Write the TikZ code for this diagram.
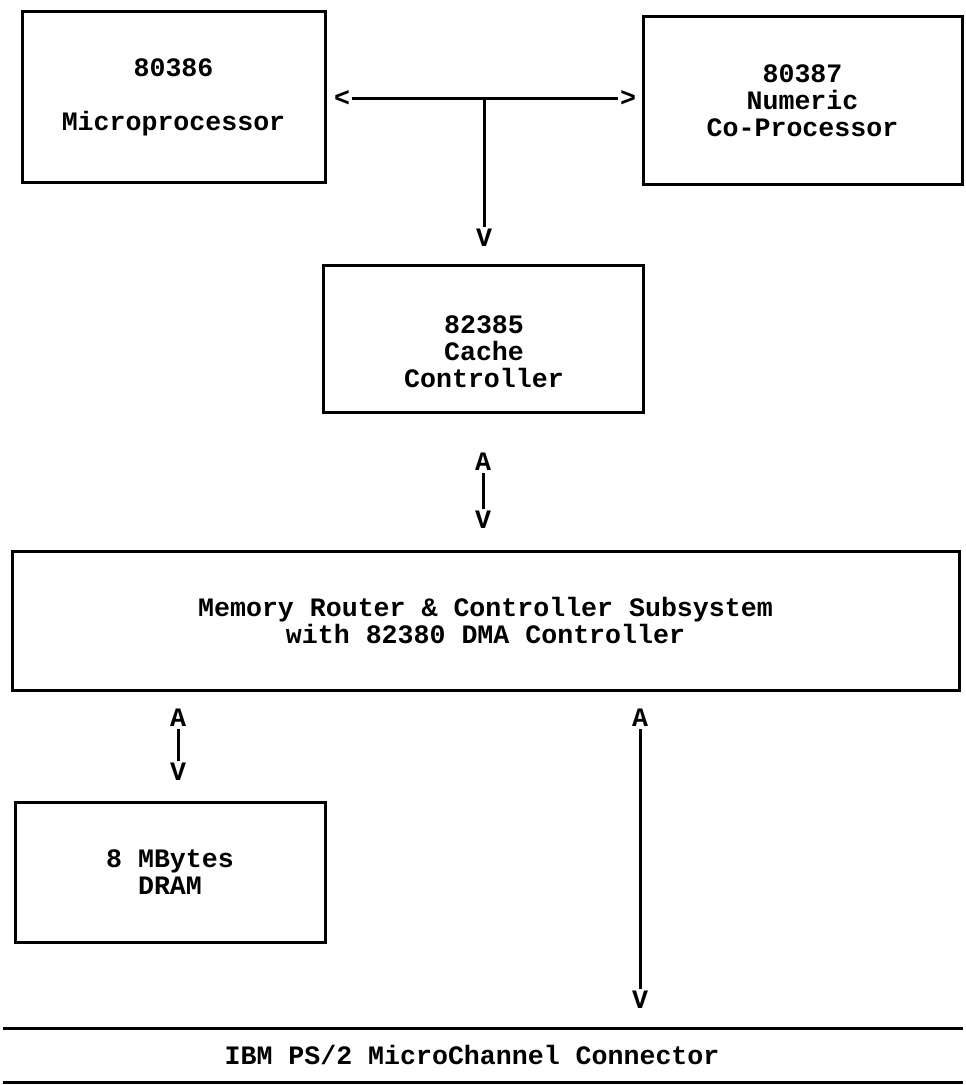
\documentclass[tikz,border=0pt]{standalone}
\usepackage{fontspec}
\setmonofont{Liberation Mono}
\usetikzlibrary{positioning}
\tikzset{
        blocknode/.style={align=center,inner sep=0pt},
        % Boxes of the system
        node_box/.style={blocknode, rectangle, draw=black, line width=1.5pt},
        % Letters used as arrow heads
        node_tip/.style={blocknode, inner sep=1pt},
        % Plain text
        node_text/.style={blocknode},
        % Connector lines
        link/.style={line width=1.5pt}
}

\begin{document}
\begin{tikzpicture}[
            x=0.5pt, y=-0.5pt,
            every node/.style={font=\ttfamily\bfseries\fontsize{13.3}{13.5}\selectfont}
        ]
            \useasboundingbox (0,0) rectangle (965,1085);
            % blocks
            \node[node_box, minimum width=151.5pt, minimum height=85.5pt] (cpu) at (173.5,97.5) {80386\\[13.5pt]Microprocessor};
            \node[node_box, minimum width=159.5pt, minimum height=84pt] (fpu) at (802.5,101) {80387\\Numeric\\Co-Processor};
            \node[node_box, minimum width=160pt, minimum height=73pt] (cache) at (483,339) {};
            \node[node_text] (cache_text) at (484,352) {82385\\Cache\\Controller};
            \node[node_box, minimum width=473.5pt, minimum height=69.5pt] (mem) at (485.5,620.5) {Memory Router \& Controller Subsystem\\with 82380 DMA Controller};
            \node[node_box, minimum width=155pt, minimum height=70pt] (dram) at (170,872) {8 MBytes\\DRAM};
            % arrow heads
            \node[node_tip] (lt) at (342,99) {<};
            \node[node_tip] (rt) at (628,99) {>};
            \coordinate (jn) at (484,99);
            \node[node_tip] (v1) at (484,238) {V};
            \node[node_tip] (a2) at (483,462) {A};
            \node[node_tip] (v2) at (483,520) {V};
            \node[node_tip] (a3) at (178,718) {A};
            \node[node_tip] (v3) at (178,772) {V};
            \node[node_tip] (a4) at (640,718) {A};
            \node[node_tip] (v4) at (640,1000) {V};
            % connectors
            \draw[link] (lt.east) -- (rt.west);
            \draw[link] (jn) -- (v1.north);
            \draw[link] (a2.south) -- (v2.north);
            \draw[link] (a3.south) -- (v3.north);
            \draw[link] (a4.south) -- (v4.north);
            % connector bus
            \coordinate (bus_tl) at (3,1028);
            \coordinate (bus_tr) at (963,1028);
            \coordinate (bus_bl) at (3,1082);
            \coordinate (bus_br) at (963,1082);
            \draw[link] (bus_tl) -- (bus_tr);
            \draw[link] (bus_bl) -- (bus_br);
            \node[node_text] (bus) at (472,1055) {IBM PS/2 MicroChannel Connector};
        \end{tikzpicture}
\end{document}
